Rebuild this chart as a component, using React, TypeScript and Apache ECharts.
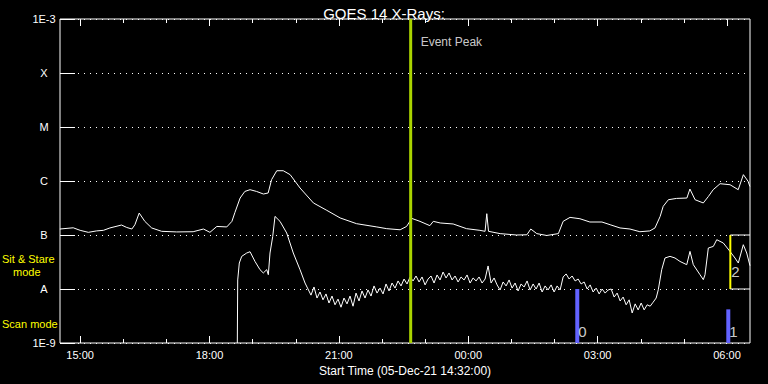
import React, { useEffect, useRef } from "react";
import * as echarts from "echarts";

const FONT = "Liberation Sans";
const NW = 1e-9; // flux values below are stored in units of 1e-9 W/m^2

// time axis: decimal hours since 05-Dec-21 00:00
const START_HOUR = 14 + 32 / 60; // 14:32
const SPAN_HOURS = 16;
const majorTickHours = [15, 18, 21, 24, 27, 30];
const minorTickHours = [16, 17, 19, 20, 22, 23, 25, 26, 28, 29];

const yTickExponents = [-9, -8, -7, -6, -5, -4, -3];
const yTickLabels = ["1E-9", "A", "B", "C", "M", "X", "1E-3"];

// long channel (upper curve): [hour, flux nW/m^2]
const longChannel: [number, number][] = [
  [14.53, 129], [14.84, 136], [15.0, 122], [15.19, 112], [15.38, 119], [15.54, 122],
  [15.69, 135], [15.96, 153], [16.08, 138], [16.2, 129], [16.27, 155], [16.37, 255],
  [16.5, 179], [16.66, 135], [16.89, 117], [17.24, 114], [17.62, 115], [17.86, 129],
  [18.01, 112], [18.17, 144], [18.4, 141], [18.52, 179], [18.59, 262], [18.71, 484],
  [18.82, 641], [18.94, 690], [19.09, 641], [19.25, 574], [19.36, 600], [19.44, 1060],
  [19.56, 1550], [19.71, 1550], [19.87, 1310], [20.1, 741], [20.41, 392], [20.72, 286],
  [21.03, 207], [21.41, 162], [21.88, 141], [22.11, 131], [22.42, 125], [22.57, 144],
  [22.69, 203], [22.88, 179], [23.11, 149], [23.19, 179], [23.35, 167], [23.65, 160],
  [23.96, 131], [24.27, 122], [24.39, 117], [24.43, 248], [24.47, 117], [24.74, 106],
  [25.12, 100], [25.36, 101], [25.45, 129], [25.59, 106], [25.82, 98], [26.09, 106],
  [26.2, 179], [26.36, 212], [26.59, 200], [26.82, 174], [27.1, 174], [27.29, 155],
  [27.52, 135], [27.75, 129], [27.98, 115], [28.21, 119], [28.33, 135], [28.45, 221],
  [28.52, 339], [28.64, 450], [28.83, 476], [29.07, 484], [29.14, 710], [29.26, 450],
  [29.45, 392], [29.57, 519], [29.68, 690], [29.84, 891], [30.07, 853], [30.26, 690],
  [30.38, 1310], [30.49, 984], [30.53, 794],
];

// short channel (lower curve): onset and first flare
const shortRise: [number, number][] = [
  [18.645, 1.0], [18.654, 14.7], [18.691, 30.3], [18.747, 40.2], [18.863, 46.4],
  [18.94, 49], [19.055, 32.4], [19.171, 22.8], [19.248, 19.8], [19.327, 22.8],
  [19.364, 18.4], [19.403, 46.4], [19.466, 94], [19.519, 221], [19.635, 179],
  [19.79, 109], [19.943, 46.4], [20.099, 22.8], [20.215, 12.9],
];
// short channel: noisy quiet period, regular cadence
const shortNoiseStart = 20.284;
const shortNoiseStep = 0.0696;
const shortNoise = [
  10.0, 7.7, 10.9, 6.8, 8.8, 6.3, 8.1, 5.5, 7.4, 5.1, 6.5, 4.6, 6.8, 5.3, 7.4, 4.8,
  8.4, 6.0, 9.2, 6.8, 9.6, 7.4, 11.4, 8.4, 10.4, 8.1, 12.4, 9.2, 12.9, 10.4, 14.1, 11.4,
  15.3, 12.4, 16.7, 14.1, 17.4, 13.5, 16.7, 11.9, 15.3, 17.4, 12.9, 18.2, 14.7, 20.6,
  16.0, 19.8, 14.7, 17.4, 13.5, 16.7, 14.7, 18.2, 12.9, 16.0, 14.1, 16.7, 12.9, 15.3,
  26.7, 12.9, 16.0, 11.9, 9.6, 13.5, 11.4, 14.7, 10.4, 12.9, 9.2, 12.4, 10.9, 14.1,
  9.6, 12.4, 10.0, 12.9, 8.8, 11.4, 9.6, 11.9, 8.8, 11.4, 9.6, 16.7, 19.0, 15.3, 17.4,
  14.1, 15.3, 12.4, 13.5, 10.0, 11.9, 8.8, 10.4, 8.1, 10.0, 8.4, 9.6, 10.0, 7.1, 8.4,
  6.0, 7.1, 5.1, 6.3, 3.6, 5.3, 4.1, 5.5, 4.1, 5.1, 4.8, 5.7, 6.8,
];
// short channel: late activity
const shortLate: [number, number][] = [
  [28.407, 9.7], [28.486, 22.8], [28.562, 37.5], [28.678, 40.2], [28.794, 37.5],
  [28.91, 32.4], [29.066, 28.2], [29.142, 49.7], [29.219, 28.2], [29.374, 18.4],
  [29.451, 14.9], [29.49, 18.4], [29.567, 57.4], [29.683, 61.5], [29.762, 81.8],
  [29.914, 71.1], [30.069, 49.7], [30.185, 37.5], [30.262, 30.3], [30.378, 66.1],
  [30.457, 46.4], [30.533, 27.0],
];

const eventPeakHour = 22.665;
const eventPeakLabelFlux = 370000; // nW, label height

const scanHours = [26.528, 30.03];
const scanTops = [10, 4.2];
const scanLabels = ["0", "1"];
const scanLabelFlux = 1.6;

const stareHour = 30.077;
const stareRange = [100, 10];
const stareLabel = "2";
const stareLabelFlux = 20.9;

const fmtHour = (h: number) => `${String(Math.round(h) % 24).padStart(2, "0")}:00`;

export default function App() {
  const ref = useRef<HTMLDivElement>(null);

  useEffect(() => {
    document.body.style.margin = "0";
    document.body.style.background = "#000";
    if (!ref.current) return;
    const chart = echarts.init(ref.current, undefined, { renderer: "svg" });
    const xMin = START_HOUR;
    const xMax = START_HOUR + SPAN_HOURS;

    const shortData: [number, number][] = [
      ...shortRise.map(([h, v]) => [h, v * NW] as [number, number]),
      ...shortNoise.map((v, i) => [shortNoiseStart + i * shortNoiseStep, v * NW] as [number, number]),
      ...shortLate.map(([h, v]) => [h, v * NW] as [number, number]),
    ];

    const baseX = {
      type: "value",
      min: xMin,
      max: xMax,
      axisLine: { show: false },
      splitLine: { show: false },
    };
    const tickStyle = { color: "#fff", width: 1 };

    const whiteLine = (data: any[], width = 1, color = "#fff", z = 3) => ({
      type: "line",
      data,
      symbol: "none",
      silent: true,
      z,
      lineStyle: { color, width },
    });

    const sideText = (text: string, left: number, top: number) => ({
      type: "text",
      left,
      top,
      style: { text, fill: "#ffff00", font: `11px '${FONT}'`, lineHeight: 11 },
    });

    const option: any = {
      backgroundColor: "#000",
      animation: false,
      textStyle: { fontFamily: FONT },
      title: {
        text: "GOES 14 X-Rays:",
        left: "center",
        top: 1,
        textStyle: { color: "#fff", fontSize: 15, fontWeight: "normal", fontFamily: FONT },
      },
      grid: {
        left: 60,
        right: 18,
        top: 19,
        bottom: 41,
        show: true,
        borderColor: "#fff",
        borderWidth: 1,
        backgroundColor: "transparent",
      },
      xAxis: [
        {
          ...baseX,
          position: "bottom",
          axisTick: { show: true, inside: true, length: 7, customValues: majorTickHours, lineStyle: tickStyle },
          axisLabel: {
            show: true,
            customValues: majorTickHours,
            formatter: (v: number) => fmtHour(v),
            color: "#fff",
            fontSize: 11,
            fontFamily: FONT,
            margin: 6,
          },
          name: "Start Time (05-Dec-21 14:32:00)",
          nameLocation: "middle",
          nameGap: 19,
          nameTextStyle: { color: "#fff", fontSize: 12, fontFamily: FONT },
        },
        {
          ...baseX,
          position: "top",
          axisTick: { show: true, inside: true, length: 7, customValues: majorTickHours, lineStyle: tickStyle },
          axisLabel: { show: false },
        },
        {
          ...baseX,
          position: "top", // flips to the free side (bottom)
          axisTick: { show: true, inside: true, length: 4, customValues: minorTickHours, lineStyle: tickStyle },
          axisLabel: { show: false },
        },
        {
          ...baseX,
          position: "bottom", // flips to top
          axisTick: { show: true, inside: true, length: 4, customValues: minorTickHours, lineStyle: tickStyle },
          axisLabel: { show: false },
        },
      ],
      yAxis: {
        type: "log",
        logBase: 10,
        min: 1e-9,
        max: 1e-3,
        splitNumber: 6,
        axisLine: { show: false },
        axisTick: { show: true, inside: true, length: 15, lineStyle: tickStyle },
        axisLabel: {
          color: "#fff",
          fontSize: 11,
          fontFamily: FONT,
          align: "center",
          margin: 16,
          formatter: (v: number) => {
            const e = Math.round(Math.log10(v));
            const i = yTickExponents.indexOf(e);
            return i >= 0 ? yTickLabels[i] : "";
          },
        },
        splitLine: { show: true, lineStyle: { color: "#fff", width: 1, type: [1, 5] } },
      },
      graphic: [
        sideText("Sit & Stare", 2, 253),
        sideText("mode", 13, 266),
        sideText("Scan mode", 2, 318),
      ],
      series: [
        whiteLine(longChannel.map(([h, v]) => [h, v * NW])),
        whiteLine(shortData),
        whiteLine([[eventPeakHour, 1e-9], [eventPeakHour, 1e-3]], 3, "#aad400", 4),
        ...scanHours.map((h, i) => whiteLine([[h, 1e-9], [h, scanTops[i] * NW]], 4, "#6262ff", 4)),
        whiteLine([[stareHour, stareRange[0] * NW], [stareHour, stareRange[1] * NW]], 2, "#ffff00", 4),
        whiteLine([[stareHour, stareRange[0] * NW], [xMax, stareRange[0] * NW]], 1, "#fff", 4),
        whiteLine([[stareHour, stareRange[1] * NW], [xMax, stareRange[1] * NW]], 1, "#fff", 4),
        {
          type: "scatter",
          symbolSize: 0,
          silent: true,
          z: 5,
          data: [
            ...scanHours.map((h, i) => ({ value: [h, scanLabelFlux * NW], name: scanLabels[i] })),
            { value: [stareHour, stareLabelFlux * NW], name: stareLabel },
          ],
          label: {
            show: true,
            position: "right",
            distance: 1,
            formatter: "{b}",
            color: "#fff",
            fontSize: 15,
            fontFamily: FONT,
          },
        },
        {
          type: "scatter",
          symbolSize: 0,
          silent: true,
          z: 5,
          data: [{ value: [eventPeakHour, eventPeakLabelFlux * NW], name: "Event Peak" }],
          label: {
            show: true,
            position: "right",
            distance: 10,
            formatter: "{b}",
            color: "#fff",
            fontSize: 12,
            fontFamily: FONT,
          },
        },
      ],
    };

    chart.setOption(option);
    return () => chart.dispose();
  }, []);

  return <div ref={ref} style={{ width: 768, height: 384, position: "absolute", left: 0, top: 0 }} />;
}
